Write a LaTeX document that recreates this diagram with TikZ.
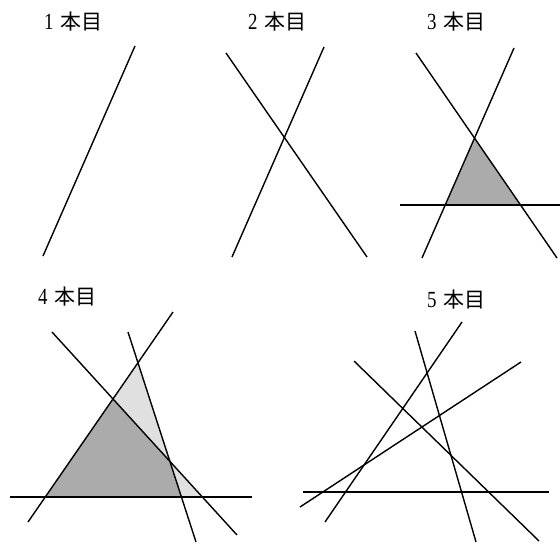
\documentclass[tikz,border=0pt]{standalone}
\usepackage{fontspec}
\setmainfont{Liberation Serif}
\newfontfamily\jpfont{Noto Sans CJK JP}
\begin{document}
\begin{tikzpicture}[x=1pt,y=-1pt,
  ln/.style={line width=1.4pt,black},
  lab/.style={anchor=west,inner sep=0pt,font=\fontsize{21}{21}\selectfont},
  darkfill/.style={fill=black!33},
  lightfill/.style={fill=black!12}]
\useasboundingbox (0,0) rectangle (560,544);
% labels
\node[lab] (t1) at (44,22)  {\scalebox{0.9}[1.1]{1}\hspace{7pt}{\jpfont 本目}};
\node[lab] (t2) at (248,22) {\scalebox{0.9}[1.1]{2}\hspace{7pt}{\jpfont 本目}};
\node[lab] (t3) at (427,22) {\scalebox{0.9}[1.1]{3}\hspace{7pt}{\jpfont 本目}};
\node[lab] (t4) at (38,297) {\scalebox{0.9}[1.1]{4}\hspace{7pt}{\jpfont 本目}};
\node[lab] (t5) at (427,300) {\scalebox{0.9}[1.1]{5}\hspace{7pt}{\jpfont 本目}};
% panel 1
\coordinate (p1a) at (43,256); \coordinate (p1b) at (135,46);
\draw[ln] (p1a) -- (p1b);
% panel 2
\coordinate (p2a) at (226,53); \coordinate (p2b) at (367,257);
\coordinate (p2c) at (324,47); \coordinate (p2d) at (232,257);
\draw[ln] (p2a) -- (p2b);
\draw[ln] (p2c) -- (p2d);
% panel 3
\coordinate (p3a) at (416,53); \coordinate (p3b) at (557,258);
\coordinate (p3c) at (514,48); \coordinate (p3d) at (422,258);
\coordinate (p3e) at (400,205); \coordinate (p3f) at (560,205);
\coordinate (q3t) at (intersection of p3a--p3b and p3c--p3d);
\coordinate (q3l) at (intersection of p3c--p3d and p3e--p3f);
\coordinate (q3r) at (intersection of p3a--p3b and p3e--p3f);
\fill[darkfill] (q3t) -- (q3l) -- (q3r) -- cycle;
\draw[ln] (p3a) -- (p3b);
\draw[ln] (p3c) -- (p3d);
\draw[ln] (p3e) -- (p3f);
% panel 4
\coordinate (p4a) at (28,522);  \coordinate (p4b) at (173,312);
\coordinate (p4c) at (52,332);  \coordinate (p4d) at (237,535);
\coordinate (p4e) at (128,332); \coordinate (p4f) at (196,542);
\coordinate (p4g) at (10,497);  \coordinate (p4h) at (252,497);
\coordinate (q4l) at (intersection of p4a--p4b and p4g--p4h);
\coordinate (q4m) at (intersection of p4a--p4b and p4c--p4d);
\coordinate (q4t) at (intersection of p4a--p4b and p4e--p4f);
\coordinate (q4x) at (intersection of p4c--p4d and p4e--p4f);
\coordinate (q4s) at (intersection of p4e--p4f and p4g--p4h);
\coordinate (q4r) at (intersection of p4c--p4d and p4g--p4h);
\fill[lightfill] (q4m) -- (q4t) -- (q4x) -- cycle;
\fill[lightfill] (q4x) -- (q4s) -- (q4r) -- cycle;
\fill[darkfill] (q4l) -- (q4m) -- (q4x) -- (q4s) -- cycle;
\draw[ln] (p4a) -- (p4b);
\draw[ln] (p4c) -- (p4d);
\draw[ln] (p4e) -- (p4f);
\draw[ln] (p4g) -- (p4h);
% panel 5
\coordinate (p5a) at (325,522); \coordinate (p5b) at (462,322);
\coordinate (p5c) at (354,361); \coordinate (p5d) at (539,541);
\coordinate (p5e) at (415,331); \coordinate (p5f) at (476,542);
\coordinate (p5g) at (300,507); \coordinate (p5h) at (521,362);
\coordinate (p5i) at (303,492); \coordinate (p5j) at (549,492);
\draw[ln] (p5a) -- (p5b);
\draw[ln] (p5c) -- (p5d);
\draw[ln] (p5e) -- (p5f);
\draw[ln] (p5g) -- (p5h);
\draw[ln] (p5i) -- (p5j);
\end{tikzpicture}
\end{document}
